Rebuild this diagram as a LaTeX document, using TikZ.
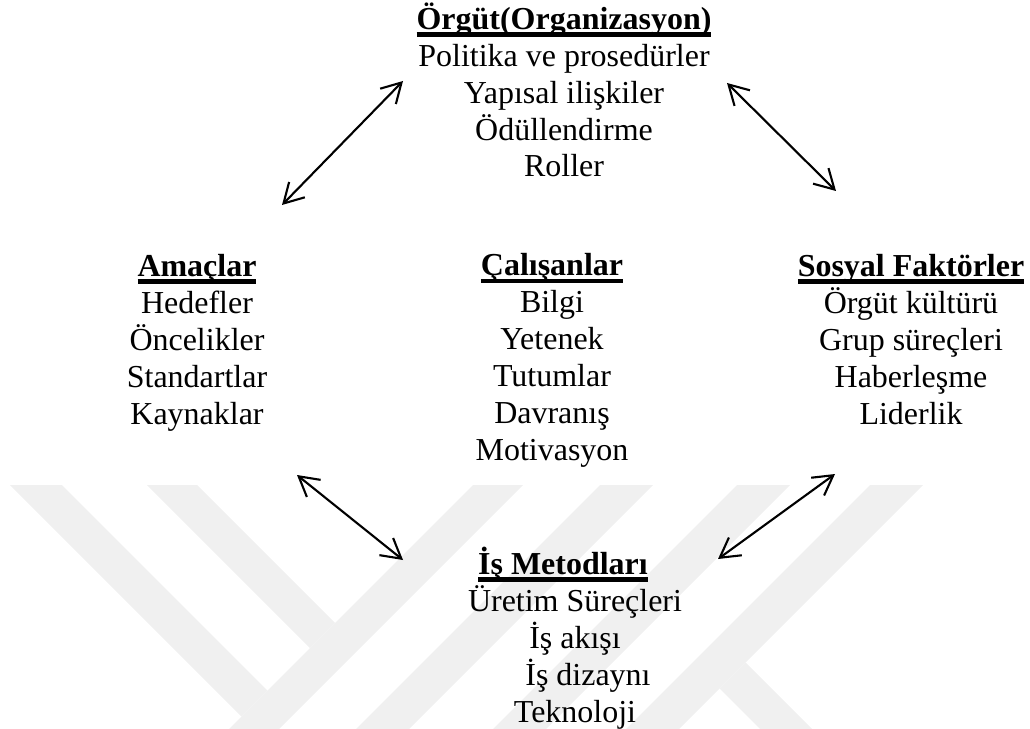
\documentclass[tikz,border=0pt]{standalone}
\usepackage{fontspec}
\setmainfont{Liberation Serif}
\usetikzlibrary{arrows.meta}
\newcommand{\baslik}[1]{\setbox0\hbox{\bfseries #1}\leavevmode\rlap{\rule[-4.3pt]{\wd0}{2.6pt}}\box0}
\tikzset{
  blok/.style={align=center, anchor=base, inner sep=0pt,
               font=\fontsize{18.2}{21}\selectfont},
  ok/.style={{Straight Barb[length=11pt,width=12.5pt]}-{Straight Barb[length=11pt,width=12.5pt]},
             line width=1.2pt},
  filigran/.style={fill=black!6, draw=none}
}
\begin{document}
\begin{tikzpicture}[x=0.02cm, y=-0.02cm]
        \useasboundingbox (0,0) rectangle (1030,729);

        % --- Watermark in the background
        \fill[filigran] (10,485) -- (62,485) -- (267.5,690.5) -- (241.5,716.5) -- cycle;
        \fill[filigran] (147,485) -- (197,485) -- (335,623) -- (310,648) -- cycle;
        \fill[filigran] (473,485) -- (523,485) -- (279,729) -- (229,729) -- cycle;
        \fill[filigran] (600,485) -- (653,485) -- (409,729) -- (356,729) -- cycle;
        \fill[filigran] (737,485) -- (790,485) -- (546,729) -- (493,729) -- cycle;
        \fill[filigran] (870,485) -- (923,485) -- (679,729) -- (626,729) -- cycle;
        \fill[filigran] (745.5,662.5) -- (812,729) -- (760,729) -- (719.5,688.5) -- cycle;

        % --- Blocks (base = last line)
        \node[blok] (orgut) at (564,177) {\baslik{Örgüt(Organizasyon)}\\Politika ve prosedürler\\Yapısal ilişkiler\\Ödüllendirme\\Roller};
        \node[blok] (amac) at (197,424) {\baslik{Amaçlar}\\Hedefler\\Öncelikler\\Standartlar\\Kaynaklar};
        \node[blok] (calisan) at (552,460) {\baslik{Çalışanlar}\\Bilgi\\Yetenek\\Tutumlar\\Davranış\\Motivasyon};
        \node[blok] (sosyal) at (911,424) {\baslik{Sosyal Faktörler}\\Örgüt kültürü\\Grup süreçleri\\Haberleşme\\Liderlik};
        \node[blok] (metod) at (575,722) {\baslik{İş Metodları}\hspace*{13.7pt}\\Üretim Süreçleri\\İş akışı\hspace*{12.5pt}\\\hspace*{14.8pt}İş dizaynı\\Teknoloji};

        % --- Arrow ends
        \coordinate (amac-ust) at (282,205);
        \coordinate (orgut-sol) at (403,81);
        \coordinate (orgut-sag) at (727,83);
        \coordinate (sosyal-ust) at (836,191);
        \coordinate (amac-alt) at (297,475);
        \coordinate (metod-sol) at (403,560);
        \coordinate (sosyal-alt) at (835,474);
        \coordinate (metod-sag) at (718,559);

        % --- Arrows
        \draw[ok] (amac-ust) -- (orgut-sol);
        \draw[ok] (orgut-sag) -- (sosyal-ust);
        \draw[ok] (amac-alt) -- (metod-sol);
        \draw[ok] (sosyal-alt) -- (metod-sag);

\end{tikzpicture}
\end{document}
